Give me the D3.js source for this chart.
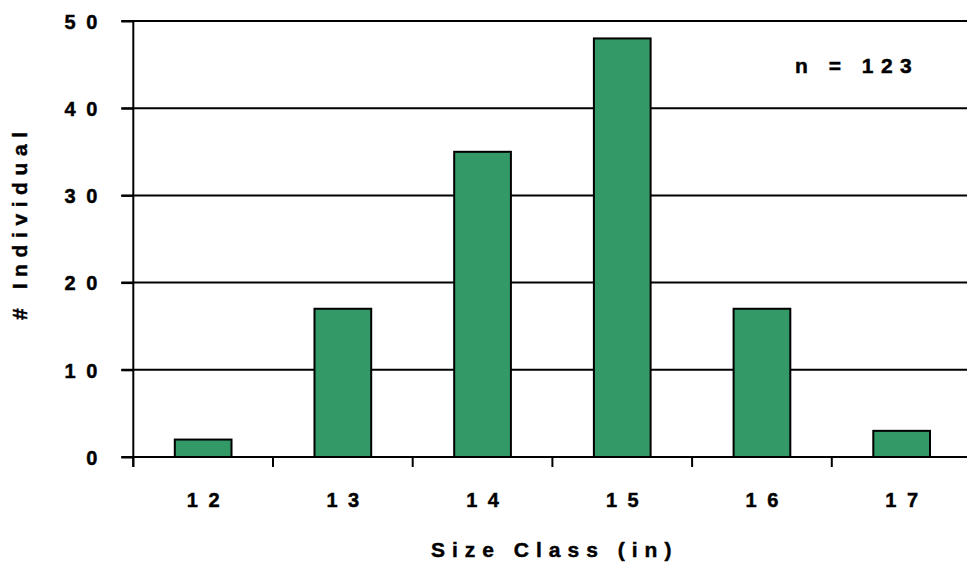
<!DOCTYPE html>
<html><head><meta charset="utf-8">
<script src="https://cdn.jsdelivr.net/npm/d3@7"></script>
<style>body{margin:0;background:#fff}svg{display:block}text{font-family:"Liberation Sans",Arial,sans-serif;font-weight:bold;fill:#000;stroke:#000;stroke-width:0.45px}</style>
</head><body><svg id="c" width="967" height="570"></svg>
<script>
const categories = ["12","13","14","15","16","17"];
const counts = [2,17,35,48,17,3];
const yTicks = [0,10,20,30,40,50];
const nLabel = "n = 123";
const xTitle = "Size Class (in)";
const yTitle = "# Individual";

(function(){
const svg = d3.select("#c");
const left = 133.3, bandW = 139.7, plotTop = 21, plotBottom = 457;
const x = d3.scaleBand().domain(categories).range([left, left + bandW*categories.length]).paddingInner(0.594).paddingOuter(0.297);
const y = d3.scaleLinear().domain([0,50]).range([plotBottom, plotTop]);
const tickLS = 10.5, tickFS = 20;

// gridlines
svg.append("g").selectAll("line").data(yTicks.filter(d=>d>0)).join("line")
  .attr("x1", left-12).attr("x2", 967).attr("y1", d=>y(d)).attr("y2", d=>y(d))
  .attr("stroke","#000").attr("stroke-width",2);

// bars
svg.append("g").selectAll("rect").data(categories).join("rect")
  .attr("x", (d)=>x(d)).attr("width", x.bandwidth())
  .attr("y", (d,i)=>y(counts[i])).attr("height", (d,i)=>y(0)-y(counts[i]))
  .attr("fill","#339966").attr("stroke","#000").attr("stroke-width",2);

// y axis
const yAxis = d3.axisLeft(y).tickValues(yTicks).tickSize(12).tickPadding(24);
const gy = svg.append("g").attr("transform",`translate(${left},0)`).call(yAxis);
gy.select(".domain").attr("stroke","#000").attr("stroke-width",2).attr("d",`M0,${plotTop}V${plotBottom+10}`);
gy.selectAll(".tick line").attr("stroke","#000").attr("stroke-width",2);
gy.selectAll(".tick text").attr("font-size",tickFS).attr("font-family","Liberation Sans, Arial, sans-serif")
  .attr("font-weight","bold").attr("fill","#000").attr("dy","0.36em")
  .attr("letter-spacing", tickLS+"px").attr("dx", tickLS+"px");

// x axis
const xb = d3.scaleLinear().domain([0,categories.length]).range([left, left+bandW*categories.length]);
svg.append("line").attr("x1",left-12).attr("x2",967).attr("y1",plotBottom).attr("y2",plotBottom).attr("stroke","#000").attr("stroke-width",2);
svg.append("g").selectAll("line").data(d3.range(categories.length)).join("line")
  .attr("x1",d=>xb(d)).attr("x2",d=>xb(d)).attr("y1",plotBottom).attr("y2",plotBottom+10)
  .attr("stroke","#000").attr("stroke-width",2);
svg.append("g").selectAll("text").data(categories).join("text")
  .attr("x",d=>x(d)+x.bandwidth()/2).attr("y",507).attr("dx", tickLS/2)
  .attr("text-anchor","middle").attr("font-size",tickFS).attr("letter-spacing",tickLS+"px")
  .text(d=>d);

svg.append("text").attr("x", 431).attr("y", 557)
  .attr("font-size",21).attr("letter-spacing","7px").text(xTitle);
svg.append("text").attr("transform","translate(27,226) rotate(-90)").attr("text-anchor","middle").attr("dx",3.3)
  .attr("font-size",21).attr("letter-spacing","6.6px").text(yTitle);
svg.append("text").attr("x", 795).attr("y", 73)
  .attr("font-size",21).attr("letter-spacing","7.5px").text(nLabel);
})();
</script></body></html>
